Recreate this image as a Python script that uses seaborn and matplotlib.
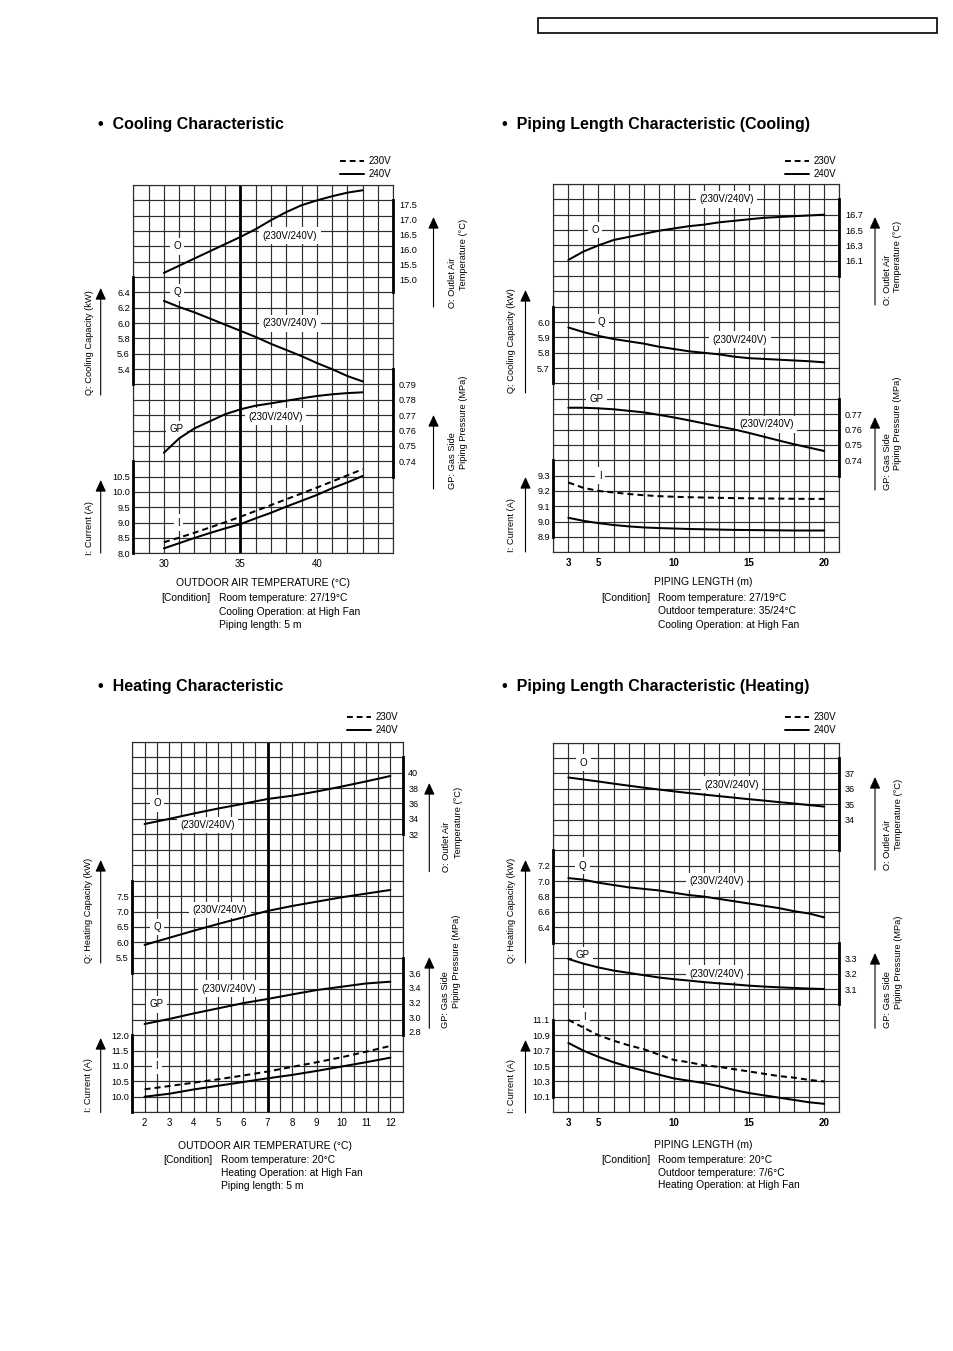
import numpy as np
import pandas as pd
import seaborn as sns
import matplotlib.pyplot as plt
from matplotlib.lines import Line2D
from matplotlib.patches import Rectangle, FancyArrowPatch

W, H = 954, 1351

# ============================================================= #
# ================ Data ================ #
# ============================================================= #
# Cooling characteristic (x = outdoor air temperature, degC)
cool_temp = [30, 31, 32, 33, 34, 35, 36, 37, 38, 39, 40, 41, 42, 43]
cool_outlet = [15.22, 15.46, 15.70, 15.94, 16.18, 16.42, 16.68, 16.98, 17.25, 17.48, 17.64, 17.78, 17.90, 17.98]
cool_capacity = [6.29, 6.21, 6.14, 6.06, 5.98, 5.90, 5.82, 5.73, 5.65, 5.57, 5.48, 5.40, 5.31, 5.24]
cool_gas_press = [0.7455, 0.7549, 0.7614, 0.7660, 0.7706, 0.7738, 0.7762, 0.7777, 0.7794, 0.7810, 0.7825, 0.7836, 0.7844, 0.7849]
cool_current_230 = [8.36, 8.51, 8.67, 8.84, 9.01, 9.19, 9.38, 9.57, 9.76, 9.95, 10.14, 10.34, 10.54, 10.74]
cool_current_240 = [8.16, 8.33, 8.50, 8.66, 8.81, 8.95, 9.14, 9.32, 9.52, 9.71, 9.90, 10.12, 10.31, 10.52]

# Piping length characteristic (x = piping length, m)
pipe_len = [3, 4, 5, 6, 7, 8, 9, 10, 11, 12, 13, 14, 15, 16, 17, 18, 19, 20]
pcool_outlet = [16.11, 16.22, 16.30, 16.37, 16.41, 16.45, 16.49, 16.52, 16.55, 16.57, 16.60, 16.62, 16.64, 16.66, 16.67, 16.68, 16.69, 16.70]
pcool_capacity = [5.965, 5.935, 5.91, 5.89, 5.875, 5.86, 5.84, 5.825, 5.81, 5.80, 5.79, 5.775, 5.765, 5.76, 5.755, 5.75, 5.745, 5.738]
pcool_gas_press = [0.7742, 0.7742, 0.7738, 0.7732, 0.7722, 0.7712, 0.7696, 0.7679, 0.7660, 0.7640, 0.7620, 0.7601, 0.7578, 0.7553, 0.7528, 0.7504, 0.7482, 0.7460]
pcool_current_230 = [9.255, 9.22, 9.20, 9.19, 9.18, 9.172, 9.166, 9.162, 9.159, 9.157, 9.155, 9.153, 9.152, 9.151, 9.150, 9.149, 9.148, 9.148]
pcool_current_240 = [9.025, 9.005, 8.99, 8.978, 8.969, 8.962, 8.958, 8.955, 8.952, 8.95, 8.948, 8.946, 8.945, 8.944, 8.943, 8.942, 8.942, 8.942]

# Heating characteristic (x = outdoor air temperature, degC)
heat_temp = [2, 3, 4, 5, 6, 7, 8, 9, 10, 11, 12]
heat_outlet = [33.34, 34.00, 34.70, 35.35, 35.95, 36.58, 37.00, 37.55, 38.18, 38.85, 39.56]
heat_capacity = [5.92, 6.15, 6.38, 6.60, 6.81, 7.02, 7.18, 7.32, 7.46, 7.58, 7.70]
heat_gas_press = [2.905, 2.974, 3.05, 3.12, 3.19, 3.248, 3.31, 3.37, 3.415, 3.46, 3.485]
heat_current_230 = [10.245, 10.35, 10.46, 10.57, 10.69, 10.82, 10.97, 11.12, 11.28, 11.46, 11.65]
heat_current_240 = [10.005, 10.10, 10.24, 10.36, 10.48, 10.60, 10.71, 10.84, 10.98, 11.12, 11.27]

# Piping length characteristic (heating)
pheat_outlet = [36.73, 36.60, 36.47, 36.33, 36.20, 36.07, 35.95, 35.83, 35.72, 35.62, 35.52, 35.42, 35.32, 35.23, 35.13, 35.04, 34.94, 34.84]
pheat_capacity = [7.04, 7.02, 6.98, 6.95, 6.92, 6.90, 6.88, 6.85, 6.82, 6.80, 6.77, 6.74, 6.71, 6.68, 6.65, 6.61, 6.58, 6.53]
pheat_gas_press = [3.295, 3.265, 3.24, 3.22, 3.205, 3.19, 3.175, 3.164, 3.155, 3.145, 3.137, 3.13, 3.122, 3.116, 3.111, 3.107, 3.103, 3.10]
pheat_current_230 = [11.10, 11.00, 10.90, 10.83, 10.77, 10.72, 10.65, 10.58, 10.55, 10.51, 10.49, 10.46, 10.43, 10.40, 10.37, 10.35, 10.32, 10.30]
pheat_current_240 = [10.80, 10.70, 10.62, 10.55, 10.49, 10.44, 10.39, 10.34, 10.31, 10.28, 10.24, 10.19, 10.15, 10.12, 10.09, 10.06, 10.03, 10.01]

# Tick labels
cool_xticks = [30, 35, 40]
heat_xticks = [2, 3, 4, 5, 6, 7, 8, 9, 10, 11, 12]
pipe_xticks = [3, 5, 10, 15, 20]
cool_o_ticks = [15.0, 15.5, 16.0, 16.5, 17.0, 17.5]
cool_q_ticks = [5.4, 5.6, 5.8, 6.0, 6.2, 6.4]
cool_gp_ticks = [0.74, 0.75, 0.76, 0.77, 0.78, 0.79]
cool_i_ticks = [8.0, 8.5, 9.0, 9.5, 10.0, 10.5]
pcool_o_ticks = [16.1, 16.3, 16.5, 16.7]
pcool_q_ticks = [5.7, 5.8, 5.9, 6.0]
pcool_gp_ticks = [0.74, 0.75, 0.76, 0.77]
pcool_i_ticks = [8.9, 9.0, 9.1, 9.2, 9.3]
heat_o_ticks = [32, 34, 36, 38, 40]
heat_q_ticks = [5.5, 6.0, 6.5, 7.0, 7.5]
heat_gp_ticks = [2.8, 3.0, 3.2, 3.4, 3.6]
heat_i_ticks = [10.0, 10.5, 11.0, 11.5, 12.0]
pheat_o_ticks = [34, 35, 36, 37]
pheat_q_ticks = [6.4, 6.6, 6.8, 7.0, 7.2]
pheat_gp_ticks = [3.1, 3.2, 3.3]
pheat_i_ticks = [10.1, 10.3, 10.5, 10.7, 10.9, 11.1]

cool_ref_temp = 35
heat_ref_temp = 7

# ============================================================= #
# =========================== Plot ============================ #
# ============================================================= #
sns.set_theme(style="white")
plt.rcParams['font.family'] = ['Liberation Sans', 'DejaVu Sans']
plt.rcParams['text.color'] = 'black'
plt.rcParams['xtick.color'] = 'black'
plt.rcParams['ytick.color'] = 'black'

GRID_C = '#2e2e2e'
DASH = (3, 2)

fig = plt.figure(figsize=(W / 100, H / 100), dpi=100)


def rect(x0, y0, x1, y1):
    # pixel box (top-left origin) -> figure fraction rect
    return [x0 / W, 1 - y1 / H, (x1 - x0) / W, (y1 - y0) / H]


def fxy(x, y):
    return x / W, 1 - y / H


def draw_panel(p):
    x0, y0, x1, y1 = p['box']
    rows = 24

    # background grid
    g = fig.add_axes(rect(x0, y0, x1, y1))
    g.set_xlim(p['xlim'])
    g.set_ylim(0, rows)
    g.set_xticks(np.arange(p['xlim'][0], p['xlim'][1] + 1e-9, p['step']), minor=True)
    g.set_yticks(np.arange(0, rows + 1), minor=True)
    g.set_xticks(p['xticks'])
    g.set_xticklabels([str(t) for t in p['xticks']],
                      fontweight='bold' if p['bold'] else 'normal')
    g.set_yticks([])
    g.grid(which='both', color=GRID_C, lw=0.85)
    g.tick_params(which='both', length=0)
    g.tick_params(axis='x', labelsize=7, pad=4.2)
    for s in g.spines.values():
        s.set_linewidth(0.85)
        s.set_color(GRID_C)
    if p['ref'] is not None:
        g.axvline(p['ref'], color='black', lw=2.0, zorder=2.5)

    for txt, tx, ty in p['labels']:
        g.text(tx, ty, txt, ha='center', va='center', fontsize=7, zorder=4,
               bbox=dict(boxstyle='square,pad=0.35', fc='white', ec='none'))

    g.legend(handles=[Line2D([], [], color='black', lw=1.4, dashes=DASH),
                      Line2D([], [], color='black', lw=1.4)],
             labels=['230V', '240V'], loc='upper left', frameon=False,
             bbox_to_anchor=fxy(*p['legend']), bbox_transform=fig.transFigure,
             borderpad=0, borderaxespad=0, handlelength=2.5, handletextpad=0.45,
             labelspacing=0.3, fontsize=7)

    # one overlay axes per quantity, spanning its bold scale bar
    hrow = (y1 - y0) / rows
    for side, (r0, r1), ylim, ticks, fmt, x, series in p['vars']:
        a = fig.add_axes(rect(x0, y1 - r1 * hrow, x1, y1 - r0 * hrow))
        a.patch.set_visible(False)
        n = len(x)
        df = pd.DataFrame({
            'x': np.tile(x, len(series)),
            'v': np.concatenate([np.asarray(v, float) for v in series.values()]),
            'volt': np.repeat(list(series.keys()), n),
        })
        dashes = {k: (DASH if k == '230V' else '') for k in series}
        sns.lineplot(data=df, x='x', y='v', style='volt', dashes=dashes,
                     color='black', lw=1.45, legend=False, ax=a, estimator=None)
        for ln in a.lines:
            ln.set_clip_on(False)
        a.set_xlim(p['xlim'])
        a.set_ylim(ylim)
        a.set_xlabel('')
        a.set_ylabel('')
        a.set_xticks([])
        a.set_yticks(ticks)
        a.set_yticklabels([fmt.format(t) for t in ticks])
        for s in a.spines.values():
            s.set_visible(False)
        a.spines[side].set_visible(True)
        a.spines[side].set_linewidth(2.0)
        a.spines[side].set_color('black')
        if side == 'right':
            a.yaxis.tick_right()
            a.tick_params(axis='y', length=0, labelsize=6.6, pad=4)
        else:
            a.tick_params(axis='y', length=0, labelsize=6.6, pad=2.5)

    # rotated quantity names and arrows
    for txt, tx, ty in p['side_text']:
        fig.text(*fxy(tx, ty), txt, rotation=90, ha='center', va='bottom', fontsize=6.7)
    for ax_x, yb, yt in p['arrows']:
        fig.add_artist(FancyArrowPatch(fxy(ax_x, yb), fxy(ax_x, yt), transform=fig.transFigure,
                                       arrowstyle='-|>,head_length=0.7,head_width=0.32',
                                       mutation_scale=10, lw=0.8, color='black',
                                       shrinkA=0, shrinkB=0))

    tx, ty = p['title'][1:]
    fig.text(*fxy(tx, ty), '\u2022  ' + p['title'][0], fontsize=11.5, fontweight='bold',
             ha='left', va='center')
    fig.text(*fxy(p['xlabel'][1], p['xlabel'][2]), p['xlabel'][0], fontsize=7.5,
             ha='center', va='center')
    for txt, tx, ty in p['condition']:
        fig.text(*fxy(tx, ty), txt, fontsize=7.4, ha='left', va='center')


panels = [
    dict(box=(133.3, 185, 393.3, 553.3), xlim=(28, 45), step=1, xticks=cool_xticks,
         ref=cool_ref_temp, bold=False,
         vars=[('right', (17, 23), (14.567, 17.643), cool_o_ticks, '{:.1f}', cool_temp, {'240V': cool_outlet}),
               ('left', (11, 18), (5.2, 6.6), cool_q_ticks, '{:.1f}', cool_temp, {'240V': cool_capacity}),
               ('right', (5, 12), (0.73, 0.80), cool_gp_ticks, '{:.2f}', cool_temp, {'240V': cool_gas_press}),
               ('left', (0, 6), (8.0, 11.0), cool_i_ticks, '{:.1f}', cool_temp,
                {'230V': cool_current_230, '240V': cool_current_240})],
         labels=[('O', 30.85, 20), ('(230V/240V)', 38.25, 20.7), ('Q', 30.85, 17),
                 ('(230V/240V)', 38.25, 15), ('GP', 30.85, 8.1), ('(230V/240V)', 37.3, 8.9),
                 ('I', 30.95, 2)],
         side_text=[('Q: Cooling Capacity (kW)', 90, 395), ('I: Current (A)', 90, 555),
                    ('O: Outlet Air', 453, 308), ('Temperature (\u00b0C)', 464, 290),
                    ('GP: Gas Side', 453, 489), ('Piping Pressure (MPa)', 464, 469)],
         arrows=[(100.7, 395, 288), (100.7, 553, 480), (433.5, 307, 217), (433.5, 489, 415)],
         legend=(340, 156), title=('Cooling Characteristic', 98, 124),
         xlabel=('OUTDOOR AIR TEMPERATURE (\u00b0C)', 263.3, 582.7),
         condition=[('[Condition]', 161.7, 598.3), ('Room temperature: 27/19\u00b0C', 219.3, 598.3),
                    ('Cooling Operation: at High Fan', 219.3, 611.7), ('Piping length: 5 m', 219.3, 625)]),
    dict(box=(553.3, 184, 839.3, 552.3), xlim=(2, 21), step=1, xticks=pipe_xticks,
         ref=None, bold=True,
         vars=[('right', (18, 23), (15.9, 16.9), pcool_o_ticks, '{:.1f}', pipe_len, {'240V': pcool_outlet}),
               ('left', (11, 16), (5.6, 6.1), pcool_q_ticks, '{:.1f}', pipe_len, {'240V': pcool_capacity}),
               ('right', (5, 10), (0.73, 0.78), pcool_gp_ticks, '{:.2f}', pipe_len, {'240V': pcool_gas_press}),
               ('left', (1, 6), (8.9, 9.4), pcool_i_ticks, '{:.1f}', pipe_len,
                {'230V': pcool_current_230, '240V': pcool_current_240})],
         labels=[('O', 4.77, 21), ('(230V/240V)', 13.52, 23), ('Q', 5.22, 15),
                 ('(230V/240V)', 14.4, 13.85), ('GP', 4.88, 10), ('(230V/240V)', 16.18, 8.34),
                 ('I', 5.1, 5)],
         side_text=[('Q: Cooling Capacity (kW)', 512, 393), ('I: Current (A)', 512, 552),
                    ('O: Outlet Air', 887, 305), ('Temperature (\u00b0C)', 898, 292),
                    ('GP: Gas Side', 887, 490), ('Piping Pressure (MPa)', 898, 470)],
         arrows=[(525.5, 393, 290), (525.5, 552, 477), (875, 305, 217), (875, 490, 417)],
         legend=(785, 156), title=('Piping Length Characteristic (Cooling)', 502, 124),
         xlabel=('PIPING LENGTH (m)', 703.3, 581.7),
         condition=[('[Condition]', 601.7, 598.3), ('Room temperature: 27/19\u00b0C', 658.3, 598.3),
                    ('Outdoor temperature: 35/24\u00b0C', 658.3, 611.5),
                    ('Cooling Operation: at High Fan', 658.3, 625)]),
    dict(box=(132.3, 741.7, 402.7, 1112.3), xlim=(1.5, 12.5), step=0.5, xticks=heat_xticks,
         ref=heat_ref_temp, bold=False,
         vars=[('right', (18, 23), (32, 42), heat_o_ticks, '{:.0f}', heat_temp, {'240V': heat_outlet}),
               ('left', (9, 15), (5.0, 8.0), heat_q_ticks, '{:.1f}', heat_temp, {'240V': heat_capacity}),
               ('right', (5, 10), (2.753, 3.811), heat_gp_ticks, '{:.1f}', heat_temp, {'240V': heat_gas_press}),
               ('left', (0, 5), (9.5, 12.0), heat_i_ticks, '{:.1f}', heat_temp,
                {'230V': heat_current_230, '240V': heat_current_240})],
         labels=[('O', 2.5, 20), ('(230V/240V)', 4.57, 18.6), ('Q', 2.5, 12),
                 ('(230V/240V)', 5.07, 13.1), ('GP', 2.5, 7), ('(230V/240V)', 5.4, 8),
                 ('I', 2.5, 3)],
         side_text=[('Q: Heating Capacity (kW)', 88.5, 963), ('I: Current (A)', 88.5, 1112.5),
                    ('O: Outlet Air', 446.7, 871.7), ('Temperature (\u00b0C)', 458.3, 858.3),
                    ('GP: Gas Side', 445, 1028.3), ('Piping Pressure (MPa)', 456.7, 1008.3)],
         arrows=[(100.7, 963, 860), (100.7, 1112.5, 1038), (429.3, 871.7, 783), (429.3, 1028.3, 957)],
         legend=(346.7, 712.5), title=('Heating Characteristic', 98, 687),
         xlabel=('OUTDOOR AIR TEMPERATURE (\u00b0C)', 265, 1145.7),
         condition=[('[Condition]', 163.3, 1160), ('Room temperature: 20\u00b0C', 220.7, 1160),
                    ('Heating Operation: at High Fan', 220.7, 1173.3), ('Piping length: 5 m', 220.7, 1185.7)]),
    dict(box=(553.3, 742.5, 839.3, 1112.3), xlim=(2, 21), step=1, xticks=pipe_xticks,
         ref=None, bold=True,
         vars=[('right', (17, 23), (32, 38), pheat_o_ticks, '{:.0f}', pipe_len, {'240V': pheat_outlet}),
               ('left', (11, 17), (6.2, 7.4), pheat_q_ticks, '{:.1f}', pipe_len, {'240V': pheat_capacity}),
               ('right', (7, 11), (3.0, 3.4), pheat_gp_ticks, '{:.1f}', pipe_len, {'240V': pheat_gas_press}),
               ('left', (1, 6), (10.1, 11.1), pheat_i_ticks, '{:.1f}', pipe_len,
                {'230V': pheat_current_230, '240V': pheat_current_240})],
         labels=[('O', 4.0, 22.7), ('(230V/240V)', 13.85, 21.25), ('Q', 3.95, 16),
                 ('(230V/240V)', 12.86, 15), ('GP', 3.95, 10.2), ('(230V/240V)', 12.86, 9),
                 ('I', 4.1, 6.2)],
         side_text=[('Q: Heating Capacity (kW)', 512, 963), ('I: Current (A)', 512, 1113),
                    ('O: Outlet Air', 888, 870), ('Temperature (\u00b0C)', 898.5, 850),
                    ('GP: Gas Side', 888, 1028.3), ('Piping Pressure (MPa)', 898.5, 1009)],
         arrows=[(525.5, 963, 860), (525.5, 1113, 1040), (875, 870, 777), (875, 1028.3, 953)],
         legend=(785, 712.5), title=('Piping Length Characteristic (Heating)', 502, 687),
         xlabel=('PIPING LENGTH (m)', 703.3, 1145),
         condition=[('[Condition]', 601.7, 1160), ('Room temperature: 20\u00b0C', 658.3, 1160),
                    ('Outdoor temperature: 7/6\u00b0C', 658.3, 1172.7),
                    ('Heating Operation: at High Fan', 658.3, 1185)]),
]

for p in panels:
    draw_panel(p)

# empty header box at the top right
fig.add_artist(Rectangle(fxy(538.3, 32.7), (936.7 - 538.3) / W, (32.7 - 18.3) / H,
                         transform=fig.transFigure, fill=False, lw=1.2, ec='black'))

fig.savefig('out.png', dpi=100)
